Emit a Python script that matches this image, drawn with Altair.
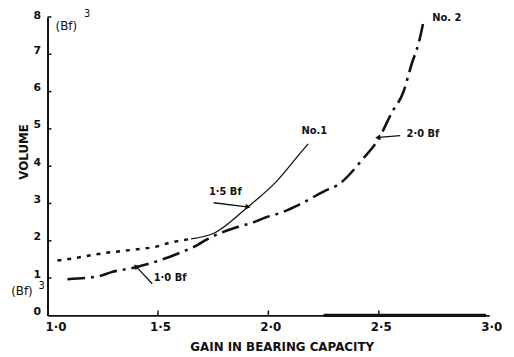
import altair as alt
import pandas as pd

# ---- data ----
x_ticks = [1.0, 1.5, 2.0, 2.5, 3.0]
x_tick_labels = ["1·0", "1·5", "2·0", "2·5", "3·0"]
y_ticks = [0, 1, 2, 3, 4, 5, 6, 7, 8]

# curve No.1 : dotted lower part, solid upper part
c1_dot_x = [1.045, 1.085, 1.245, 1.40, 1.49, 1.555, 1.65]
c1_dot_y = [1.47, 1.50, 1.66, 1.77, 1.84, 1.95, 2.05]
c1_x = [1.65, 1.756, 1.904, 2.038, 2.15, 2.18]
c1_y = [2.05, 2.21, 2.89, 3.60, 4.39, 4.60]

# curve No.2 : dash-dot
c2_x = [1.09, 1.23, 1.29, 1.40, 1.52, 1.60, 1.68, 1.72, 1.86, 1.92, 1.99,
        2.06, 2.14, 2.25, 2.32, 2.43, 2.50, 2.56, 2.61, 2.65, 2.68, 2.705]
c2_y = [0.97, 1.05, 1.16, 1.29, 1.50, 1.68, 1.89, 2.03, 2.37, 2.47, 2.63,
        2.76, 2.97, 3.32, 3.52, 4.21, 4.74, 5.45, 5.97, 6.76, 7.29, 7.95]

# annotations
ann_text = ["No.1", "No. 2", "1·5 Bf", "1·0 Bf", "2·0 Bf"]
ann_x = [2.208, 2.808, 1.805, 1.555, 2.700]
ann_y = [4.95, 7.97, 3.31, 1.01, 4.85]
bf_text = ["(Bf)", "(Bf)"]
bf_x = [1.085, 0.884]
bf_y = [7.76, 0.64]
sup_text = ["3", "3"]
sup_x = [1.179, 0.973]
sup_y = [8.08, 0.80]

# arrows (tail -> head)
arr_x = [1.752, 1.474, 2.597]
arr_y = [3.02, 0.85, 4.82]
arr_x2 = [1.904, 1.403, 2.499]
arr_y2 = [2.91, 1.30, 4.77]
arr_angle = [97, 317, 265]

# ---- tables ----
d1dot = pd.DataFrame({"x": c1_dot_x, "y": c1_dot_y})
d1 = pd.DataFrame({"x": c1_x, "y": c1_y})
d2 = pd.DataFrame({"x": c2_x, "y": c2_y})
dann = pd.DataFrame({"x": ann_x, "y": ann_y, "t": ann_text})
dbf = pd.DataFrame({"x": bf_x, "y": bf_y, "t": bf_text})
dsup = pd.DataFrame({"x": sup_x, "y": sup_y, "t": sup_text})
darr = pd.DataFrame({"x": arr_x, "y": arr_y, "x2": arr_x2, "y2": arr_y2})
dhead = pd.DataFrame({"x": arr_x2, "y": arr_y2, "a": arr_angle})
dyt = pd.DataFrame({"y": y_ticks[1:]})
dxt = pd.DataFrame({"x": x_ticks[1:4]})
dthick = pd.DataFrame({"x": [2.25], "x2": [2.985], "y": [0]})

W, H = 447, 302
FONT = "DejaVu Sans"
INK = "#111111"

label_expr = " : ".join(
    f"datum.value == {v} ? '{l}'" for v, l in zip(x_ticks, x_tick_labels)
) + " : ''"

xscale = alt.Scale(domain=[1.0, 3.0], nice=False, zero=False)
yscale = alt.Scale(domain=[0, 8], nice=False, zero=True)

xaxis = alt.Axis(
    values=x_ticks, labelExpr=label_expr, title="GAIN  IN BEARING CAPACITY",
    titleX=237, titleY=32, titleAlign="center", titleBaseline="middle",
    titleFont=FONT, titleFontSize=12, titleFontWeight="bold", titleColor=INK,
    labelFont=FONT, labelFontSize=12, labelFontWeight="bold", labelColor=INK,
    labelPadding=6, labelBaseline="top", labelOffset=alt.ConditionalAxisNumber(
        condition={"test": "datum.value == 1", "value": 8}, value=2),
    labelFlush=False, ticks=False, domainWidth=2, domainColor=INK, grid=False,
)
yaxis = alt.Axis(
    values=y_ticks, format="d", title="VOLUME",
    titleAngle=270, titleX=-24, titleY=136, titleAlign="center",
    titleBaseline="middle", titleFont=FONT, titleFontSize=12,
    titleFontWeight="bold", titleColor=INK,
    labelFont=FONT, labelFontSize=11, labelFontWeight="bold", labelColor=INK,
    labelPadding=7, labelBaseline="middle",
    labelOffset=alt.ConditionalAxisNumber(
        condition={"test": "datum.value == 8", "value": -1}, value=-4),
    ticks=False, domainWidth=2, domainColor=INK, grid=False,
)

X = alt.X("x:Q", scale=xscale, axis=xaxis)
Y = alt.Y("y:Q", scale=yscale, axis=yaxis)

dotted = alt.Chart(d1dot).mark_line(
    color=INK, strokeWidth=2.5, strokeDash=[4, 6], interpolate="monotone"
).encode(x=X, y=Y)

solid = alt.Chart(d1).mark_line(
    color=INK, strokeWidth=1.3, interpolate="monotone"
).encode(x=X, y=Y)

dashdot = alt.Chart(d2).mark_line(
    color=INK, strokeWidth=2.6, strokeDash=[18, 6, 3, 6], interpolate="monotone"
).encode(x=X, y=Y)

thick = alt.Chart(dthick).mark_rule(color=INK, strokeWidth=3.5).encode(
    x=X, x2="x2:Q", y=Y)

ytick_in = alt.Chart(dyt).mark_rule(color=INK, strokeWidth=1.5).encode(
    y=Y, x=alt.value(0), x2=alt.value(4))
xtick_in = alt.Chart(dxt).mark_rule(color=INK, strokeWidth=1.5).encode(
    x=X, y=alt.value(H), y2=alt.value(H - 5))

ann = alt.Chart(dann).mark_text(
    font=FONT, fontSize=10, fontWeight="bold", color=INK
).encode(x=X, y=Y, text="t:N")

bf = alt.Chart(dbf).mark_text(
    font=FONT, fontSize=12, color=INK
).encode(x=X, y=Y, text="t:N")

sup = alt.Chart(dsup).mark_text(
    font=FONT, fontSize=10, color=INK
).encode(x=X, y=Y, text="t:N")

arrows = alt.Chart(darr).mark_rule(color=INK, strokeWidth=1.3).encode(
    x=X, y=Y, x2="x2:Q", y2="y2:Q")

heads = alt.Chart(dhead).mark_point(
    shape="triangle", filled=True, color=INK, size=35, opacity=1
).encode(x=X, y=Y, angle=alt.Angle("a:Q", scale=None))

chart = alt.layer(
    dotted, solid, dashdot, thick, ytick_in, xtick_in, arrows, heads, ann, bf, sup
).properties(
    width=W, height=H, autosize="none",
    padding={"left": 40, "top": 7, "right": 17, "bottom": 39},
    background="white",
).configure_view(stroke=None)

chart.save("out.html", embed_options={"renderer": "svg", "actions": False})
